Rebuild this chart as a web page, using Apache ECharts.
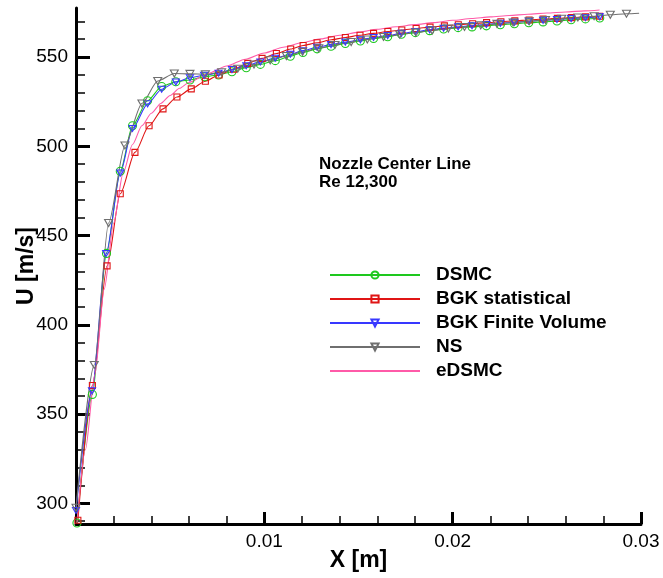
<!DOCTYPE html>
<html>
<head>
<meta charset="utf-8">
<script src="https://cdn.jsdelivr.net/npm/echarts@6/dist/echarts.min.js"></script>
<style>
  html, body { margin: 0; padding: 0; background: #fff; }
  #chart { width: 663px; height: 578px; }
</style>
</head>
<body>
<div id="chart"></div>
<script>
// Axis velocity along the nozzle centre line, X [m] vs U [m/s]
const yMajorTicks = [300, 350, 400, 450, 500, 550];
const yMinorTicks = [290, 310, 320, 330, 340, 360, 370, 380, 390, 410, 420, 430, 440,
  460, 470, 480, 490, 510, 520, 530, 540, 560, 570];
const xLabelTicks = [0.01, 0.02, 0.03];
const xMajorTicks = [0, 0.01, 0.02, 0.03];
const xMinorTicks = [0.002, 0.004, 0.006, 0.008, 0.012, 0.014, 0.016, 0.018,
  0.022, 0.024, 0.026, 0.028];

const dsmcX = [0.00005, 0.00087, 0.00162, 0.00235, 0.0030, 0.0038, 0.00455, 0.0053, 0.00605,
  0.00683, 0.00757, 0.00828, 0.00904, 0.00979, 0.01058, 0.01138, 0.01205, 0.0128, 0.01354,
  0.0143, 0.0151, 0.0158, 0.01655, 0.01728, 0.01802, 0.01878, 0.01952, 0.02029, 0.02103,
  0.02179, 0.02253, 0.02328, 0.02404, 0.0248, 0.02554, 0.02629, 0.02705, 0.02781];
const dsmcU = [289, 361, 440, 486, 511.5, 525.5, 533.5, 536.2, 537.2,
  539.0, 540.0, 541.8, 544, 545.9, 548, 550.5, 552.6, 554.6, 556.1,
  557.6, 559, 560.4, 561.4, 562.8, 563.7, 564.8, 565.7, 566.5, 566.9,
  567.5, 568.1, 568.7, 569.2, 569.7, 570.2, 570.9, 571.4, 571.9];

const bgkStatX = [0.0001, 0.00087, 0.00165, 0.00235, 0.00313, 0.00388, 0.00462, 0.00536,
  0.00612, 0.00687, 0.0076, 0.00836, 0.00912, 0.00988, 0.01064, 0.0114, 0.01206, 0.0128,
  0.01356, 0.0143, 0.01508, 0.0158, 0.01656, 0.0173, 0.01806, 0.0188, 0.01956, 0.0203,
  0.02106, 0.0218, 0.02256, 0.0233, 0.02406, 0.0248, 0.02556, 0.0263, 0.02706, 0.0278];
const bgkStatU = [290.5, 366, 433, 473.4, 496.6, 511.5, 521, 527.6,
  532.2, 536.5, 540, 543.2, 546.5, 549.3, 552, 554.5, 556.5, 558,
  559.7, 561, 562.2, 563.3, 564.3, 565.2, 566, 566.8, 567.5, 568.1,
  568.7, 569.3, 569.8, 570.3, 570.8, 571.3, 571.7, 572.1, 572.5, 572.9];

const bgkFvX = [0.0, 0.00085, 0.0016, 0.00235, 0.0030, 0.0038, 0.00455, 0.0053, 0.00605,
  0.0068, 0.00757, 0.00828, 0.00904, 0.00979, 0.01058, 0.01138, 0.01205, 0.0128, 0.01354,
  0.0143, 0.0151, 0.0158, 0.01655, 0.01728, 0.01802, 0.01878, 0.01952, 0.02029, 0.02103,
  0.02179, 0.02253, 0.02328, 0.02404, 0.0248, 0.02554, 0.02629, 0.02705, 0.02781];
const bgkFvU = [296, 363, 440, 485, 510, 523.8, 532, 536, 538.4,
  539.8, 541, 543, 545.2, 547.3, 549.4, 551.6, 553.6, 555.5, 557,
  558.4, 559.7, 561, 562.1, 563.3, 564.3, 565.3, 566.2, 567, 567.6,
  568.3, 568.9, 569.5, 570.1, 570.6, 571.1, 571.6, 572.1, 572.6];

const nsX = [0.0, 0.00097, 0.00173, 0.0026, 0.0035, 0.00434, 0.00522, 0.00605, 0.00687,
  0.00773, 0.00859, 0.00945, 0.01031, 0.01117, 0.01203, 0.01289, 0.01375, 0.01461, 0.01547,
  0.01633, 0.01719, 0.01805, 0.01891, 0.01977, 0.02063, 0.02149, 0.02235, 0.02321, 0.02407,
  0.02493, 0.02579, 0.02665, 0.02751, 0.02837, 0.02923, 0.0299];
const nsU = [297.5, 377.5, 457, 500.5, 524, 536.6, 540.8, 540.6, 540.4,
  541.5, 543.5, 545.8, 548.2, 550.6, 553, 555, 556.8, 558.4, 559.9,
  561.3, 562.6, 563.8, 564.9, 566, 566.9, 567.8, 568.6, 569.4, 570.1,
  570.8, 571.5, 572.2, 572.9, 573.7, 574.3, 574.6];

const edsmcX = [0.00005, 0.0005, 0.001, 0.0015, 0.002, 0.0025, 0.003, 0.0035, 0.004, 0.0045,
  0.005, 0.0055, 0.006, 0.007, 0.008, 0.009, 0.010, 0.011, 0.012, 0.013, 0.014, 0.015,
  0.016, 0.017, 0.018, 0.019, 0.020, 0.021, 0.022, 0.023, 0.024, 0.025, 0.026, 0.027, 0.0278];
const edsmcU = [289, 330, 372, 420, 457, 485, 501, 511.5, 518.5, 524,
  528.5, 532.5, 535.8, 540.8, 545, 548.8, 552.3, 555.5, 558, 560.2, 562.2, 564,
  565.6, 567, 568.2, 569.3, 570.6, 571.6, 572.5, 573.3, 574, 574.7, 575.3, 575.9, 576.4];

const FONT = '"Liberation Sans", Arial, Helvetica, sans-serif';
const yMin = 288.4, yMax = 577.5;

function pairs(xs, ys) {
  return xs.map((x, i) => [x, ys[i]]);
}

function lineSeries(name, xs, ys, color, symbol, size, rotate) {
  return {
    name: name,
    type: 'line',
    data: pairs(xs, ys),
    smooth: 0.25,
    smoothMonotone: 'x',
    symbol: symbol,
    symbolSize: size,
    symbolRotate: rotate || 0,
    showSymbol: symbol !== 'none',
    lineStyle: { color: color, width: 1.1 },
    itemStyle: { color: 'rgba(255,255,255,0)', borderColor: color, borderWidth: 1.1 },
    emphasis: { disabled: true },
    animation: false,
    clip: false
  };
}

const nsSeries = lineSeries('NS', nsX, nsU, '#6f6f6f', 'triangle', [8, 7], 180);
// the final NS point only carries the line to the axis end
nsSeries.data[nsSeries.data.length - 1] = { value: nsSeries.data[nsSeries.data.length - 1], symbol: 'none' };

const chart = echarts.init(document.getElementById('chart'), null, { renderer: 'canvas' });

const axisBase = {
  nameTextStyle: { fontFamily: FONT, fontWeight: 'bold', fontSize: 23, color: '#000' },
  nameMoveOverlap: false,
  splitLine: { show: false }
};

chart.setOption({
  backgroundColor: '#fff',
  animation: false,
  textStyle: { fontFamily: FONT },
  grid: { left: 76, right: 22, top: 8, bottom: 54, containLabel: false, outerBoundsMode: 'none' },
  title: {
    text: 'Nozzle Center Line\nRe 12,300',
    left: 319,
    top: 155,
    padding: 0,
    textStyle: { fontFamily: FONT, fontWeight: 'bold', fontSize: 17, lineHeight: 18, color: '#000' }
  },
  legend: {
    orient: 'vertical',
    left: 329,
    top: 265,
    padding: 0,
    itemWidth: 90,
    itemHeight: 9,
    itemGap: 4,
    selectedMode: false,
    data: ['DSMC', 'BGK statistical', 'BGK Finite Volume', 'NS',
      { name: 'eDSMC', itemStyle: { color: 'rgba(0,0,0,0)', borderColor: 'rgba(0,0,0,0)', borderWidth: 0 } }],
    textStyle: { fontFamily: FONT, fontWeight: 'bold', fontSize: 19, lineHeight: 20, color: '#000', padding: [0, 0, 0, 11] }
  },
  xAxis: [
    Object.assign({}, axisBase, {
      type: 'value', min: 0, max: 0.03,
      name: 'X [m]', nameLocation: 'middle', nameGap: 25,
      axisLine: { show: true, lineStyle: { color: '#000', width: 3 } },
      axisTick: { show: true, inside: true, length: 12, lineStyle: { color: '#000', width: 3 }, customValues: xMajorTicks },
      axisLabel: { show: true, customValues: xLabelTicks, fontFamily: FONT, fontSize: 19, color: '#000', margin: 8 }
    }),
    {
      type: 'value', min: 0, max: 0.03, position: 'bottom',
      axisLine: { show: false },
      axisTick: { show: true, inside: true, length: 8, lineStyle: { color: '#000', width: 1.5 }, customValues: xMinorTicks },
      axisLabel: { show: false },
      splitLine: { show: false }
    }
  ],
  yAxis: [
    Object.assign({}, axisBase, {
      type: 'value', min: yMin, max: yMax,
      name: 'U [m/s]', nameLocation: 'middle', nameGap: 38,
      axisLine: { show: true, lineStyle: { color: '#000', width: 3 } },
      axisTick: { show: true, inside: true, length: 14, lineStyle: { color: '#000', width: 3 }, customValues: yMajorTicks },
      axisLabel: { show: true, customValues: yMajorTicks, fontFamily: FONT, fontSize: 19, color: '#000', margin: 8 }
    }),
    {
      type: 'value', min: yMin, max: yMax, position: 'left',
      axisLine: { show: false },
      axisTick: { show: true, inside: true, length: 9, lineStyle: { color: '#000', width: 1.5 }, customValues: yMinorTicks },
      axisLabel: { show: false },
      splitLine: { show: false }
    }
  ],
  series: [
    lineSeries('DSMC', dsmcX, dsmcU, '#1ec81e', 'circle', 8),
    lineSeries('BGK statistical', bgkStatX, bgkStatU, '#e01515', 'rect', 6),
    lineSeries('BGK Finite Volume', bgkFvX, bgkFvU, '#3838ff', 'triangle', [7, 6], 180),
    nsSeries,
    lineSeries('eDSMC', edsmcX, edsmcU, '#ff5aa8', 'none', 0)
  ]
});
</script>
</body>
</html>
